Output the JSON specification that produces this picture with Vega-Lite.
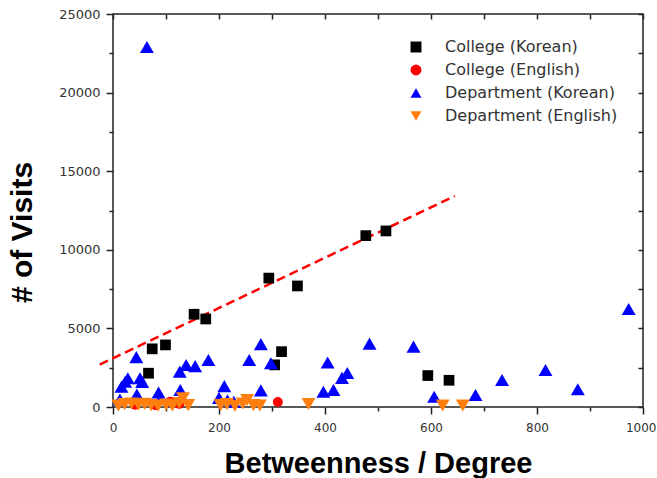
{
  "$schema": "https://vega.github.io/schema/vega-lite/v6.json",
  "width": 530,
  "height": 393,
  "autosize": {"type": "none"},
  "padding": {"left": 113, "top": 14, "right": 14, "bottom": 71},
  "background": "white",
  "config": {
    "view": {"stroke": "#222", "strokeWidth": 1.5},
    "font": "Liberation Sans",
    "legend": {
      "orient": "none",
      "legendX": 295,
      "legendY": 25,
      "padding": 0,
      "labelFont": "DejaVu Sans",
      "labelFontSize": 16,
      "labelColor": "#333",
      "labelOffset": 21,
      "rowPadding": 7,
      "symbolSize": 120,
      "symbolStrokeWidth": 0,
      "labelLimit": 300
    }
  },
  "layer": [
    {
      "data": {"values": [{"x": -25, "y": 2700}, {"x": 645, "y": 13420}]},
      "mark": {"type": "line", "color": "#ff0000", "strokeWidth": 2.5, "strokeDash": [9, 5]},
      "encoding": {
        "x": {
          "field": "x", "type": "quantitative",
          "scale": {"domain": [0, 1000], "nice": false, "zero": false},
          "axis": {"orient": "top", "labels": false, "title": null, "domain": false, "grid": false,
            "values": [0, 100, 200, 300, 400, 500, 600, 700, 800, 900, 1000],
            "tickSize": -5, "tickColor": "#222", "tickWidth": 1.5}
        },
        "y": {
          "field": "y", "type": "quantitative",
          "scale": {"domain": [0, 25000], "nice": false, "zero": false},
          "axis": {"orient": "right", "labels": false, "title": null, "domain": false, "grid": false,
            "values": [0, 2500, 5000, 7500, 10000, 12500, 15000, 17500, 20000, 22500, 25000],
            "tickSize": -5, "tickColor": "#222", "tickWidth": 1.5}
        }
      }
    },
    {
      "data": {"values": [
        {"series": "College (Korean)", "x": 67, "y": 2150},
        {"series": "College (Korean)", "x": 74, "y": 3700},
        {"series": "College (Korean)", "x": 99, "y": 3950},
        {"series": "College (Korean)", "x": 153, "y": 5900},
        {"series": "College (Korean)", "x": 175, "y": 5600},
        {"series": "College (Korean)", "x": 294, "y": 8200},
        {"series": "College (Korean)", "x": 305, "y": 2680},
        {"series": "College (Korean)", "x": 318, "y": 3520},
        {"series": "College (Korean)", "x": 348, "y": 7700},
        {"series": "College (Korean)", "x": 477, "y": 10900},
        {"series": "College (Korean)", "x": 515, "y": 11200},
        {"series": "College (Korean)", "x": 594, "y": 2000},
        {"series": "College (Korean)", "x": 634, "y": 1700},
        {"series": "College (English)", "x": 42, "y": 150},
        {"series": "College (English)", "x": 80, "y": 120},
        {"series": "College (English)", "x": 108, "y": 340},
        {"series": "College (English)", "x": 125, "y": 200},
        {"series": "College (English)", "x": 311, "y": 320},
        {"series": "Department (Korean)", "x": 13, "y": 480},
        {"series": "Department (Korean)", "x": 16, "y": 1290},
        {"series": "Department (Korean)", "x": 23, "y": 1610},
        {"series": "Department (Korean)", "x": 28, "y": 1830},
        {"series": "Department (Korean)", "x": 44, "y": 3170},
        {"series": "Department (Korean)", "x": 45, "y": 800},
        {"series": "Department (Korean)", "x": 51, "y": 1830},
        {"series": "Department (Korean)", "x": 55, "y": 1600},
        {"series": "Department (Korean)", "x": 64, "y": 22900},
        {"series": "Department (Korean)", "x": 86, "y": 920},
        {"series": "Department (Korean)", "x": 89, "y": 520},
        {"series": "Department (Korean)", "x": 126, "y": 2250},
        {"series": "Department (Korean)", "x": 127, "y": 1080},
        {"series": "Department (Korean)", "x": 138, "y": 2670},
        {"series": "Department (Korean)", "x": 155, "y": 2600},
        {"series": "Department (Korean)", "x": 180, "y": 2990},
        {"series": "Department (Korean)", "x": 200, "y": 580},
        {"series": "Department (Korean)", "x": 210, "y": 1330},
        {"series": "Department (Korean)", "x": 216, "y": 420},
        {"series": "Department (Korean)", "x": 228, "y": 330},
        {"series": "Department (Korean)", "x": 257, "y": 2990},
        {"series": "Department (Korean)", "x": 279, "y": 4000},
        {"series": "Department (Korean)", "x": 279, "y": 1060},
        {"series": "Department (Korean)", "x": 298, "y": 2780},
        {"series": "Department (Korean)", "x": 397, "y": 975},
        {"series": "Department (Korean)", "x": 405, "y": 2830},
        {"series": "Department (Korean)", "x": 416, "y": 1080},
        {"series": "Department (Korean)", "x": 432, "y": 1850},
        {"series": "Department (Korean)", "x": 442, "y": 2160},
        {"series": "Department (Korean)", "x": 484, "y": 4030},
        {"series": "Department (Korean)", "x": 567, "y": 3840},
        {"series": "Department (Korean)", "x": 606, "y": 650},
        {"series": "Department (Korean)", "x": 684, "y": 760},
        {"series": "Department (Korean)", "x": 734, "y": 1720},
        {"series": "Department (Korean)", "x": 816, "y": 2350},
        {"series": "Department (Korean)", "x": 877, "y": 1125},
        {"series": "Department (Korean)", "x": 973, "y": 6230},
        {"series": "Department (English)", "x": 10, "y": 100},
        {"series": "Department (English)", "x": 22, "y": 180},
        {"series": "Department (English)", "x": 35, "y": 220},
        {"series": "Department (English)", "x": 48, "y": 150},
        {"series": "Department (English)", "x": 60, "y": 200},
        {"series": "Department (English)", "x": 72, "y": 120},
        {"series": "Department (English)", "x": 85, "y": 80},
        {"series": "Department (English)", "x": 100, "y": 150},
        {"series": "Department (English)", "x": 112, "y": 100},
        {"series": "Department (English)", "x": 125, "y": 250},
        {"series": "Department (English)", "x": 132, "y": 550},
        {"series": "Department (English)", "x": 142, "y": 120},
        {"series": "Department (English)", "x": 203, "y": 120},
        {"series": "Department (English)", "x": 215, "y": 180},
        {"series": "Department (English)", "x": 230, "y": 80},
        {"series": "Department (English)", "x": 245, "y": 220},
        {"series": "Department (English)", "x": 253, "y": 450},
        {"series": "Department (English)", "x": 265, "y": 120},
        {"series": "Department (English)", "x": 277, "y": 100},
        {"series": "Department (English)", "x": 369, "y": 190},
        {"series": "Department (English)", "x": 622, "y": 100},
        {"series": "Department (English)", "x": 660, "y": 100}
      ]},
      "mark": {"type": "point", "filled": true, "opacity": 1, "strokeWidth": 0},
      "encoding": {
        "x": {
          "field": "x", "type": "quantitative",
          "scale": {"domain": [0, 1000], "nice": false, "zero": false},
          "axis": {
            "orient": "bottom", "domain": false, "grid": false,
            "values": [0, 100, 200, 300, 400, 500, 600, 700, 800, 900, 1000],
            "labelExpr": "datum.value % 200 === 0 ? datum.label : ''",
            "format": "d",
            "tickSize": {"condition": {"test": "datum.value % 200 === 0", "value": 7}, "value": 4},
            "tickColor": "#222", "tickWidth": 1.5,
            "labelFont": "DejaVu Sans", "labelFontSize": 12, "labelColor": "#333", "labelPadding": 8,
            "labelAlign": {"condition": {"test": "datum.value === 1000", "value": "right"}, "value": "center"},
            "labelOffset": {"condition": {"test": "datum.value === 1000", "value": 13}, "value": 0},
            "labelFlush": false, "labelOverlap": false, "labelBound": false,
            "title": "Betweenness / Degree",
            "titleFont": "Liberation Sans", "titleFontSize": 29, "titleFontWeight": "bold", "titleColor": "#000",
            "titleX": 265, "titleY": 56, "titleAlign": "center", "titleBaseline": "middle"
          }
        },
        "y": {
          "field": "y", "type": "quantitative",
          "scale": {"domain": [0, 25000], "nice": false, "zero": false},
          "axis": {
            "orient": "left", "domain": false, "grid": false,
            "values": [0, 2500, 5000, 7500, 10000, 12500, 15000, 17500, 20000, 22500, 25000],
            "labelExpr": "datum.value % 5000 === 0 ? datum.label : ''",
            "format": "d",
            "tickSize": {"condition": {"test": "datum.value % 5000 === 0", "value": 7}, "value": 4},
            "tickColor": "#222", "tickWidth": 1.5,
            "labelFont": "DejaVu Sans", "labelFontSize": 13, "labelColor": "#333", "labelPadding": 6,
            "labelFlush": false, "labelOverlap": false,
            "title": "# of Visits",
            "titleFont": "Liberation Sans", "titleFontSize": 30, "titleFontWeight": "bold", "titleColor": "#000",
            "titleX": -91, "titleY": 218, "titleAngle": -90, "titleAlign": "center", "titleBaseline": "middle"
          }
        },
        "color": {
          "field": "series", "type": "nominal",
          "scale": {
            "domain": ["College (Korean)", "College (English)", "Department (Korean)", "Department (English)"],
            "range": ["#000000", "#ff0000", "#0000ff", "#ff7f0e"]
          },
          "legend": {"title": null}
        },
        "shape": {
          "field": "series", "type": "nominal",
          "scale": {
            "domain": ["College (Korean)", "College (English)", "Department (Korean)", "Department (English)"],
            "range": ["square", "circle", "triangle-up", "triangle-down"]
          },
          "legend": {"title": null}
        },
        "size": {
          "condition": [
            {"test": "datum.series === 'College (Korean)'", "value": 115},
            {"test": "datum.series === 'College (English)'", "value": 100}
          ],
          "value": 195
        }
      }
    }
  ],
  "resolve": {"axis": {"x": "independent", "y": "independent"}}
}
